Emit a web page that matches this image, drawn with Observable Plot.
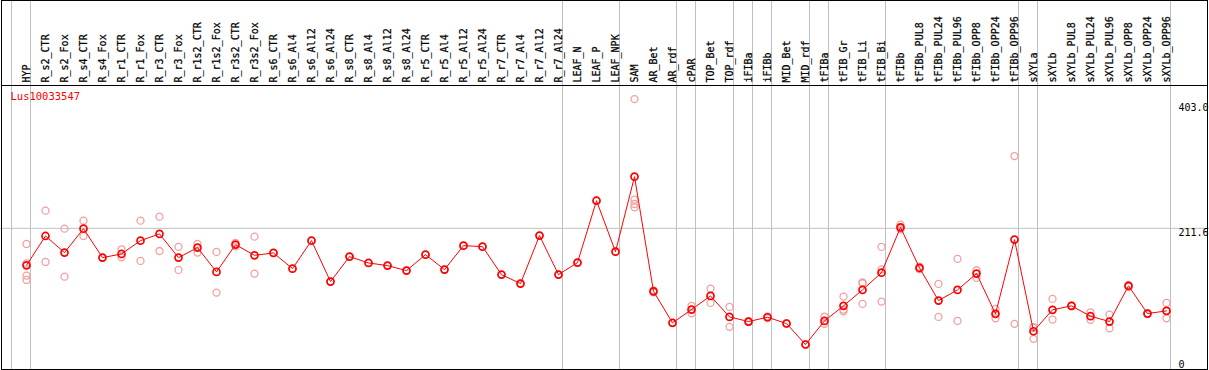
<!DOCTYPE html>
<html>
<head>
<meta charset="utf-8">
<script src="https://cdn.jsdelivr.net/npm/d3@7"></script>
<script src="https://cdn.jsdelivr.net/npm/@observablehq/plot@0.6"></script>
<style>
  html, body { margin: 0; padding: 0; background: white; }
  #chart svg { display: block; }
</style>
</head>
<body>
<div id="chart"></div>
<script>
const geneId = "Lus10033547";

const categories = [
  "HYP","R_s2_CTR","R_s2_Fox","R_s4_CTR","R_s4_Fox","R_r1_CTR","R_r1_Fox","R_r3_CTR","R_r3_Fox",
  "R_r1s2_CTR","R_r1s2_Fox","R_r3s2_CTR","R_r3s2_Fox","R_s6_CTR","R_s6_Al4","R_s6_Al12","R_s6_Al24",
  "R_s8_CTR","R_s8_Al4","R_s8_Al12","R_s8_Al24","R_r5_CTR","R_r5_Al4","R_r5_Al12","R_r5_Al24",
  "R_r7_CTR","R_r7_Al4","R_r7_Al12","R_r7_Al24","LEAF_N","LEAF_P","LEAF_NPK","SAM","AR_Bet","AR_rdf",
  "cPAR","TOP_Bet","TOP_rdf","iFIBa","iFIBb","MID_Bet","MID_rdf","tFIBa","tFIB_Gr","tFIB_Li","tFIB_Bi",
  "tFIBb","tFIBb_PUL8","tFIBb_PUL24","tFIBb_PUL96","tFIBb_OPP8","tFIBb_OPP24","tFIBb_OPP96",
  "sXYLa","sXYLb","sXYLb_PUL8","sXYLb_PUL24","sXYLb_PUL96","sXYLb_OPP8","sXYLb_OPP24","sXYLb_OPP96"
];

const meanValues = [
  156.9, 200.3, 175.7, 211.1, 168.3, 173.7, 193.4, 203.3, 168.3,
  183.1, 147.2, 187.5, 171.7, 175.2, 152.0, 193.4, 132.9,
  169.8, 160.4, 156.5, 149.1, 172.7, 150.6, 186.0, 184.5,
  143.2, 129.9, 200.8, 143.2, 160.9, 252.4, 177.1, 287.9, 118.5, 71.9,
  91.5, 111.7, 80.7, 73.8, 80.2, 70.9, 39.9, 74.8, 97.0, 120.6, 146.1,
  213.0, 153.1, 104.8, 120.6, 144.7, 85.2, 194.9,
  59.5, 91.1, 97.0, 81.7, 73.8, 126.5, 85.6, 89.6
];

const replicates = [
  [188.5, 159.9, 141.7, 135.3], [237.7, 161.9], [211.1, 140.2], [222.9, 200.3], [168.3],
  [180.6, 168.7], [222.9, 163.4], [228.8, 178.1], [184.1, 150.1],
  [188.5, 175.7], [176.7, 116.6], [190.0, 185.0], [199.3, 144.7], [175.2], [152.0], [193.4], [132.9],
  [169.8], [160.4], [156.5], [149.1], [172.7], [150.6], [186.0], [184.5],
  [143.2], [129.9], [200.8], [143.2], [160.9], [252.4], [177.1],
  [402.6, 253.9, 247.5, 242.6], [120.0, 117.0], [71.9],
  [97.0, 86.1], [122.5, 101.4], [95.5, 66.0], [74.5, 73.0], [81.5, 79.0], [71.5, 70.3], [40.5, 39.3],
  [81.2, 70.4], [110.7, 91.5, 89.0], [130.4, 131.5, 99.9], [184.1, 151.0, 103.3],
  [217.0, 212.1, 210.0], [155.0, 151.0], [129.4, 80.7], [166.4, 74.8], [149.6, 138.3], [92.5, 78.7], [318.4, 70.4],
  [64.5, 65.7, 48.3], [107.3, 76.8], [97.5, 96.5], [87.5, 76.3], [84.1, 63.9], [128.0, 125.0], [86.0, 85.0], [101.4, 78.7]
];

// groups end after these categories (a separator line follows each)
const groupEnds = ["HYP","R_r7_Al24","LEAF_NPK","AR_rdf","cPAR","TOP_rdf","iFIBa","iFIBb",
  "MID_rdf","tFIBa","tFIB_Bi","tFIBb_OPP96","sXYLa","sXYLb_OPP96"];
const groupStart = ["HYP"];

const yMax = 403.0;
const yMid = 211.6;
const yTickLabels = ["403.0", "211.6", "0"];

const meanData = categories.map((c, i) => ({category: c, value: meanValues[i]}));
const repData = categories.flatMap((c, i) => replicates[i].map(v => ({category: c, value: v})));

const W = 1209;
const xScale = {type: "point", domain: categories, range: [26, 1166], padding: 0};
const font = {fontFamily: "'DejaVu Sans Mono', monospace", fontSize: "10px", background: "white", overflow: "hidden"};
const grey = "#c0c0c0";

const header = Plot.plot({
  width: W, height: 85,
  marginTop: 0, marginBottom: 0, marginLeft: 0, marginRight: 0,
  x: {...xScale, axis: null},
  style: font,
  marks: [
    Plot.ruleX(groupEnds, {x: d => d, dx: 4, stroke: grey}),
    Plot.ruleX(groupStart, {x: d => d, dx: 4 - 19, stroke: grey}),
    Plot.text(categories, {x: d => d, frameAnchor: "top", dy: 82, dx: 3, rotate: -90,
      textAnchor: "start", lineAnchor: "bottom", fill: "black", stroke: "black", strokeWidth: 0.25}),
    Plot.frame({stroke: "black", insetLeft: 1, insetRight: 2, insetTop: 0, insetBottom: -2})
  ]
});

const main = Plot.plot({
  width: W, height: 285,
  marginTop: 0, marginBottom: 0, marginLeft: 0, marginRight: 0,
  x: {...xScale, axis: null},
  y: {domain: [0, yMax], range: [286, 13.3], axis: null},
  style: font,
  marks: [
    Plot.ruleX(groupEnds, {x: d => d, dx: 4, stroke: grey}),
    Plot.ruleX(groupStart, {x: d => d, dx: 4 - 19, stroke: grey}),
    Plot.ruleY([yMid], {stroke: grey}),
    Plot.dot(repData, {x: "category", y: "value", r: 3.5, stroke: "#f0a0a0", strokeWidth: 1.3, fill: "none"}),
    Plot.line(meanData, {x: "category", y: "value", stroke: "red", strokeWidth: 1}),
    Plot.dot(meanData, {x: "category", y: "value", r: 3.5, stroke: "red", strokeWidth: 1.7, fill: "none"}),
    Plot.text([geneId], {frameAnchor: "top-left", dx: 10, dy: 14, lineAnchor: "bottom", textAnchor: "start", fill: "red", fontSize: 10.5}),
    Plot.text([yMax], {y: d => d, text: () => yTickLabels[0], frameAnchor: "right", dx: -31, dy: 5, textAnchor: "start", lineAnchor: "top", fill: "black"}),
    Plot.text([yMid], {y: d => d, text: () => yTickLabels[1], frameAnchor: "right", dx: -31, dy: 0.5, textAnchor: "start", lineAnchor: "top", fill: "black"}),
    Plot.text([0], {y: d => d, text: () => yTickLabels[2], frameAnchor: "right", dx: -31, dy: -11, textAnchor: "start", lineAnchor: "top", fill: "black"}),
    Plot.frame({stroke: "black", insetLeft: 1, insetRight: 2, insetTop: 0, insetBottom: 1})
  ]
});

const el = document.getElementById("chart");
el.appendChild(header);
el.appendChild(main);
</script>
</body>
</html>
